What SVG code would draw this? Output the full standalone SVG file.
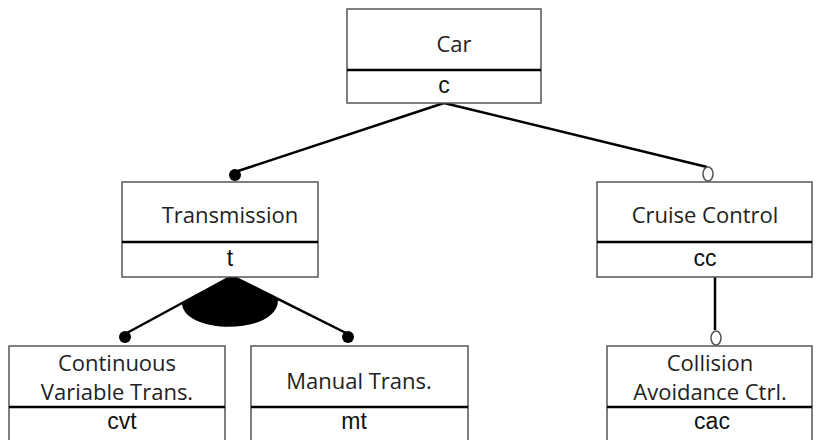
<svg xmlns="http://www.w3.org/2000/svg" width="816" height="440" viewBox="0 0 816 440">
<style>
.box{fill:#fff;stroke:#555;stroke-width:1.5}
.div{stroke:#000;stroke-width:2.5}
.lbl{font-family:"Open Sans","Noto Sans",sans-serif;font-size:22px;fill:#222;text-anchor:middle}
.var{font-family:"Liberation Sans",Arial,sans-serif;font-size:23px;fill:#111;text-anchor:middle}
.edge{stroke:#000;stroke-width:2.5;fill:none}
</style>
<g id="connectors">
<line class="edge" x1="444" y1="103" x2="235" y2="172"/>
<circle cx="235" cy="175" r="6" fill="#000"/>
<line class="edge" x1="444" y1="103" x2="707" y2="167"/>
<ellipse cx="708" cy="174" rx="5" ry="7" fill="#fff" stroke="#555" stroke-width="1.5"/>
<line class="edge" x1="232" y1="276" x2="125" y2="334"/>
<line class="edge" x1="232" y1="276" x2="348" y2="334"/>
<circle cx="125" cy="337" r="6" fill="#000"/>
<circle cx="348" cy="337" r="6" fill="#000"/>
<path d="M232,276 L182,304 C185,335 278,335 278,300 Z" fill="#000"/>
<line class="edge" x1="715" y1="277" x2="715" y2="330"/>
<ellipse cx="716" cy="338" rx="5" ry="7" fill="#fff" stroke="#555" stroke-width="1.5"/>
</g>
<g id="car">
<rect class="box" x="347" y="9" width="194" height="94"/>
<line class="div" x1="347" y1="70" x2="541" y2="70"/>
<text class="lbl" x="454" y="52">Car</text>
<text class="var" x="444" y="93">c</text>
</g>
<g id="transmission">
<rect class="box" x="122" y="182" width="196" height="95"/>
<line class="div" x1="122" y1="242" x2="318" y2="242"/>
<text class="lbl" x="230" y="223">Transmission</text>
<text class="var" x="230" y="266">t</text>
</g>
<g id="cruise">
<rect class="box" x="597" y="182" width="215" height="95"/>
<line class="div" x1="597" y1="242" x2="812" y2="242"/>
<text class="lbl" x="705" y="223">Cruise Control</text>
<text class="var" x="705" y="266">cc</text>
</g>
<g id="cvt">
<rect class="box" x="9" y="346" width="216" height="100"/>
<line class="div" x1="9" y1="407" x2="225" y2="407"/>
<text class="lbl" x="117" y="371">Continuous</text>
<text class="lbl" x="117" y="400">Variable Trans.</text>
<text class="var" x="122" y="429">cvt</text>
</g>
<g id="mt">
<rect class="box" x="251" y="346" width="217" height="100"/>
<line class="div" x1="251" y1="407" x2="468" y2="407"/>
<text class="lbl" x="359" y="389">Manual Trans.</text>
<text class="var" x="354" y="429">mt</text>
</g>
<g id="cac">
<rect class="box" x="607" y="346" width="205" height="100"/>
<line class="div" x1="607" y1="407" x2="812" y2="407"/>
<text class="lbl" x="710" y="371">Collision</text>
<text class="lbl" x="710" y="400">Avoidance Ctrl.</text>
<text class="var" x="712" y="429">cac</text>
</g>
</svg>
